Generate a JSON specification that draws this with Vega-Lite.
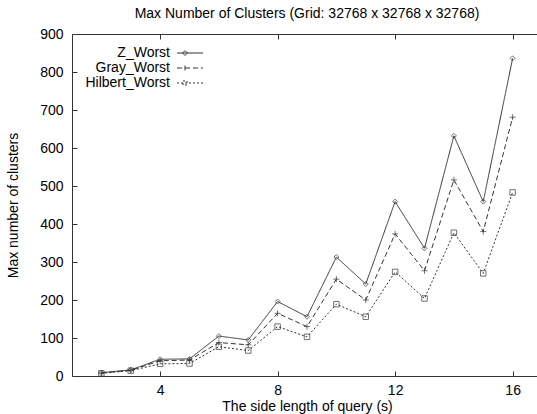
{
  "$schema": "https://vega.github.io/schema/vega-lite/v6.json",
  "width": 470,
  "height": 342,
  "autosize": "none",
  "padding": {"left": 72, "top": 34, "right": 0, "bottom": 38},
  "background": "white",
  "title": {
    "text": "Max Number of Clusters (Grid: 32768 x 32768 x 32768)",
    "font": "Liberation Sans",
    "fontSize": 14,
    "fontWeight": "normal",
    "color": "black",
    "anchor": "middle",
    "frame": "group",
    "offset": 6
  },
  "config": {
    "view": {"stroke": "#333", "strokeWidth": 1},
    "axis": {
      "domain": false,
      "grid": false,
      "tickColor": "#333",
      "tickSize": -5,
      "labelFont": "Liberation Sans",
      "labelFontSize": 14,
      "labelColor": "black",
      "titleFont": "Liberation Sans",
      "titleFontSize": 14,
      "titleFontWeight": "normal",
      "titleColor": "black"
    },
    "legend": {
      "labelFont": "Liberation Sans",
      "labelFontSize": 14,
      "labelColor": "black"
    }
  },
  "data": {
    "values": [
      {"s": 2, "series": "Z_Worst", "v": 9},
      {"s": 3, "series": "Z_Worst", "v": 16},
      {"s": 4, "series": "Z_Worst", "v": 44},
      {"s": 5, "series": "Z_Worst", "v": 45},
      {"s": 6, "series": "Z_Worst", "v": 105},
      {"s": 7, "series": "Z_Worst", "v": 95},
      {"s": 8, "series": "Z_Worst", "v": 196},
      {"s": 9, "series": "Z_Worst", "v": 156},
      {"s": 10, "series": "Z_Worst", "v": 313},
      {"s": 11, "series": "Z_Worst", "v": 242},
      {"s": 12, "series": "Z_Worst", "v": 459},
      {"s": 13, "series": "Z_Worst", "v": 336},
      {"s": 14, "series": "Z_Worst", "v": 632},
      {"s": 15, "series": "Z_Worst", "v": 459},
      {"s": 16, "series": "Z_Worst", "v": 836},
      {"s": 2, "series": "Gray_Worst", "v": 8},
      {"s": 3, "series": "Gray_Worst", "v": 15},
      {"s": 4, "series": "Gray_Worst", "v": 40},
      {"s": 5, "series": "Gray_Worst", "v": 42},
      {"s": 6, "series": "Gray_Worst", "v": 88},
      {"s": 7, "series": "Gray_Worst", "v": 82},
      {"s": 8, "series": "Gray_Worst", "v": 165},
      {"s": 9, "series": "Gray_Worst", "v": 130},
      {"s": 10, "series": "Gray_Worst", "v": 255},
      {"s": 11, "series": "Gray_Worst", "v": 200},
      {"s": 12, "series": "Gray_Worst", "v": 374},
      {"s": 13, "series": "Gray_Worst", "v": 277},
      {"s": 14, "series": "Gray_Worst", "v": 516},
      {"s": 15, "series": "Gray_Worst", "v": 380},
      {"s": 16, "series": "Gray_Worst", "v": 681},
      {"s": 2, "series": "Hilbert_Worst", "v": 7},
      {"s": 3, "series": "Hilbert_Worst", "v": 14},
      {"s": 4, "series": "Hilbert_Worst", "v": 32},
      {"s": 5, "series": "Hilbert_Worst", "v": 33},
      {"s": 6, "series": "Hilbert_Worst", "v": 77},
      {"s": 7, "series": "Hilbert_Worst", "v": 67},
      {"s": 8, "series": "Hilbert_Worst", "v": 130},
      {"s": 9, "series": "Hilbert_Worst", "v": 103},
      {"s": 10, "series": "Hilbert_Worst", "v": 189},
      {"s": 11, "series": "Hilbert_Worst", "v": 156},
      {"s": 12, "series": "Hilbert_Worst", "v": 274},
      {"s": 13, "series": "Hilbert_Worst", "v": 204},
      {"s": 14, "series": "Hilbert_Worst", "v": 377},
      {"s": 15, "series": "Hilbert_Worst", "v": 270},
      {"s": 16, "series": "Hilbert_Worst", "v": 483}
    ]
  },
  "layer": [
    {
      "mark": {"type": "line", "color": "#333", "strokeWidth": 1},
      "encoding": {
        "x": {
          "field": "s", "type": "quantitative",
          "scale": {"domain": [1, 17], "nice": false, "zero": false},
          "axis": {"orient": "bottom", "values": [4, 8, 12, 16], "title": "The side length of query (s)", "labelPadding": 12, "titlePadding": 2}
        },
        "y": {
          "field": "v", "type": "quantitative",
          "scale": {"domain": [0, 900], "nice": false},
          "axis": {"orient": "left", "values": [0, 100, 200, 300, 400, 500, 600, 700, 800, 900], "title": "Max number of clusters", "labelPadding": 14, "titlePadding": 19}
        },
        "strokeDash": {
          "field": "series", "type": "nominal",
          "scale": {"domain": ["Z_Worst", "Gray_Worst", "Hilbert_Worst"], "range": [[1, 0], [5, 3], [2, 2]]},
          "legend": {
            "title": null,
            "orient": "none",
            "legendX": 106,
            "legendY": 12,
            "padding": 0,
            "rowPadding": 1,
            "symbolSize": 100,
            "symbolStrokeColor": "#333",
            "symbolStrokeWidth": 1,
            "symbolFillColor": "transparent",
            "labelAlign": "right",
            "labelOffset": -22,
            "encode": {
              "symbols": {
                "update": {
                  "shape": {"signal": "datum.value === 'Z_Worst' ? 'M-1.6,0H3.6M-0.5,0L0,-0.5L0.5,0L0,0.5Z' : datum.value === 'Gray_Worst' ? 'M-1.6,0H3.6M0,-0.5V0.5' : 'M-1.6,0H3.6M-0.4,-0.4H0.4V0.4H-0.4Z'"}
                }
              }
            }
          }
        }
      }
    },
    {
      "transform": [{"filter": "datum.series === 'Z_Worst'"}],
      "mark": {"type": "point", "filled": false, "color": "#333", "strokeWidth": 1, "shape": "M0,-1L1,0L0,1L-1,0Z", "size": 25},
      "encoding": {
        "x": {
          "field": "s", "type": "quantitative",
          "axis": {"orient": "top", "values": [4, 8, 12, 16], "labels": false, "title": null}
        },
        "y": {
          "field": "v", "type": "quantitative",
          "axis": {"orient": "right", "values": [0, 100, 200, 300, 400, 500, 600, 700, 800, 900], "labels": false, "title": null}
        }
      }
    },
    {
      "transform": [{"filter": "datum.series === 'Gray_Worst'"}],
      "mark": {"type": "point", "filled": false, "color": "#333", "strokeWidth": 1, "shape": "M-1,0H1M0,-1V1", "size": 36},
      "encoding": {
        "x": {"field": "s", "type": "quantitative", "axis": null},
        "y": {"field": "v", "type": "quantitative", "axis": null}
      }
    },
    {
      "transform": [{"filter": "datum.series === 'Hilbert_Worst'"}],
      "mark": {"type": "point", "filled": false, "color": "#333", "strokeWidth": 1, "shape": "M-1,-1H1V1H-1Z", "size": 30},
      "encoding": {
        "x": {"field": "s", "type": "quantitative", "axis": null},
        "y": {"field": "v", "type": "quantitative", "axis": null}
      }
    }
  ],
  "resolve": {"axis": {"x": "independent", "y": "independent"}}
}
